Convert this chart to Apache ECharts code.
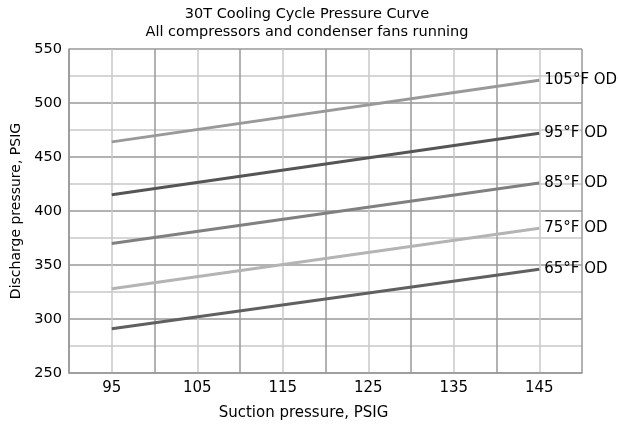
<!DOCTYPE html>
<html>
<head>
<meta charset="utf-8">
<script src="https://cdn.jsdelivr.net/npm/echarts@6/dist/echarts.min.js"></script>
<style>
  html, body { margin: 0; padding: 0; background: #fff; }
  #graph { width: 618px; height: 429px; }
</style>
</head>
<body>
<div id="graph"></div>
<script>
  // suction pressure points (x) and discharge pressures for each outdoor temp
  var suction = [95, 145];
  var seriesNames = ["105°F OD", "95°F OD", "85°F OD", "75°F OD", "65°F OD"];
  var od105 = [464, 521];
  var od95 = [415, 472];
  var od85 = [370, 426];
  var od75 = [328, 384];
  var od65 = [291, 346];
  var lineColors = ["#999999", "#555555", "#808080", "#b4b4b4", "#606060"];
  var xTickLabels = [95, 105, 115, 125, 135, 145];

  var myChart = echarts.init(document.getElementById('graph'));
  var allData = [od105, od95, od85, od75, od65];
  var font = "DejaVu Sans, Verdana, sans-serif";

  var series = [];
  for (var i = 0; i < allData.length; i++) {
    var pts = [];
    for (var j = 0; j < suction.length; j++) {
      pts.push([suction[j], allData[i][j]]);
    }
    series.push({
      name: seriesNames[i],
      type: "line",
      data: pts,
      symbol: "none",
      animation: false,
      lineStyle: { color: lineColors[i], width: 3 },
      endLabel: {
        show: true,
        formatter: seriesNames[i],
        color: "#000",
        fontFamily: font,
        fontSize: 15,
        distance: 5
      }
    });
  }

  var option = {
    title: {
      text: "30T Cooling Cycle Pressure Curve\nAll compressors and condenser fans running",
      left: 302,
      top: 0,
      textAlign: "center",
      textStyle: { fontFamily: font, fontSize: 14.5, fontWeight: "normal", color: "#000", lineHeight: 18 }
    },
    grid: { left: 69, right: 36, top: 49, bottom: 56 },
    xAxis: {
      type: "value",
      min: 90,
      max: 150,
      interval: 5,
      name: "Suction pressure, PSIG",
      nameLocation: "middle",
      nameGap: 33,
      nameTextStyle: { fontFamily: font, fontSize: 15, color: "#000", padding: [0, 44, 0, 0] },
      axisLine: { show: true, lineStyle: { color: "#999", width: 1.5 } },
      axisTick: { show: false },
      axisLabel: {
        fontFamily: font, fontSize: 15, color: "#000", margin: 8,
        formatter: function (v) { return xTickLabels.indexOf(v) >= 0 ? String(v) : ""; }
      },
      splitLine: { show: true, lineStyle: { color: ["#999", "#c8c8c8"], width: 1.5 } }
    },
    yAxis: {
      type: "value",
      min: 250,
      max: 550,
      interval: 25,
      name: "Discharge pressure, PSIG",
      nameLocation: "middle",
      nameGap: 43,
      nameTextStyle: { fontFamily: font, fontSize: 14, color: "#000" },
      axisLine: { show: true, lineStyle: { color: "#999", width: 1.5 } },
      axisTick: { show: false },
      axisLabel: {
        fontFamily: font, fontSize: 14.5, color: "#000", margin: 7,
        formatter: function (v) { return v % 50 === 0 ? String(v) : ""; }
      },
      splitLine: { show: true, lineStyle: { color: ["#999", "#c8c8c8"], width: 1.5 } }
    },
    series: series,
    animation: false
  };
  myChart.setOption(option);
</script>
</body>
</html>
